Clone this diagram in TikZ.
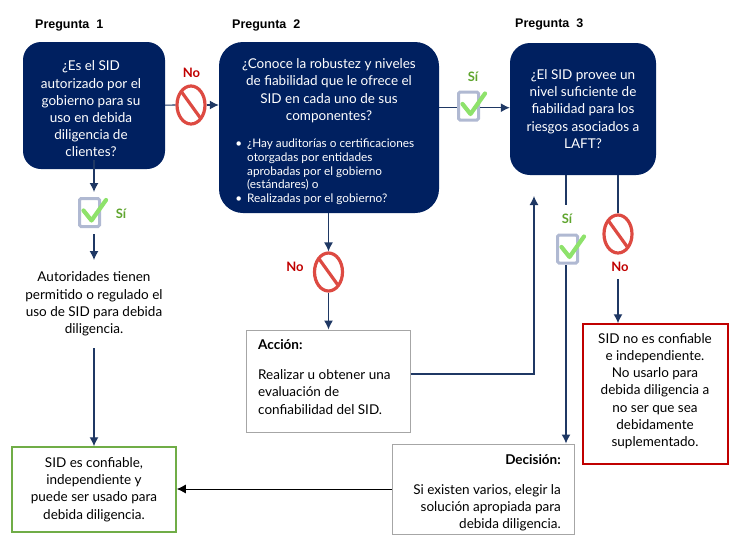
\documentclass[tikz,border=0pt]{standalone}
\usepackage{fontspec}
\setmainfont{Lato}
\newfontfamily\headfont{Liberation Sans}
\usetikzlibrary{arrows.meta}
\usetikzlibrary{shapes.geometric}
\definecolor{NavyClr}{HTML}{002060}
\definecolor{LineClr}{HTML}{1F3864}
\definecolor{BanClr}{HTML}{DD4A42}
\definecolor{NoClr}{HTML}{C00000}
\definecolor{SiClr}{HTML}{5FA52E}
\definecolor{TickClr}{HTML}{8EE26B}
\definecolor{CheckClr}{HTML}{B0B9D2}
\definecolor{OkBoxClr}{HTML}{70AD47}
\definecolor{RedBoxClr}{HTML}{C00000}
\definecolor{GreyBoxClr}{HTML}{A6A6A6}
\tikzset{
  question/.style={draw=none,fill=NavyClr,text=white,rounded corners=#1,align=center,font=\fontsize{13.5}{17.2}\selectfont,inner sep=0pt},
  question/.default=20pt,
  heading/.style={font=\headfont\bfseries\fontsize{12.5}{15}\selectfont,inner sep=0pt},
  plain/.style={align=center,font=\fontsize{13.5}{17.2}\selectfont,inner sep=0pt},
  result/.style={draw=#1,line width=1pt,fill=white,align=center,font=\fontsize{13.5}{17.2}\selectfont,inner sep=0pt},
  banicon/.style={ellipse,draw=BanClr,line width=3.2pt,fill=white,minimum width=28pt,minimum height=38pt,inner sep=0pt},
  checkicon/.style={draw=CheckClr,line width=3pt,rounded corners=1.5pt,fill=white,minimum width=20pt,minimum height=28pt,inner sep=0pt},
  yes/.style={text=SiClr,font=\bfseries\fontsize{13}{15}\selectfont,inner sep=0pt},
  no/.style={text=NoClr,font=\bfseries\fontsize{13}{15}\selectfont,inner sep=0pt},
  flow/.style={LineClr,line width=1.2pt,-{Latex[length=9pt,width=9pt]}},
  flowline/.style={LineClr,line width=1.2pt},
  slash/.pic={\draw[BanClr,line width=3.2pt] (-9,-12.5) -- (9,12.5);},
  tick/.pic={\draw[TickClr,line width=4.2pt,line cap=round,line join=round] (-6,-2) -- (2,8) -- (16.5,-12.5);}
}
\begin{document}
\begin{tikzpicture}[x=1pt,y=-1pt]
\useasboundingbox (0,0) rectangle (740,547);

% headings
\node[heading,anchor=west] (headOne) at (35,26) {Pregunta\ \ 1};
\node[heading,anchor=west] (headTwo) at (232,25) {Pregunta\ \ 2};
\node[heading,anchor=west] (headThree) at (515,24) {Pregunta\ \ 3};

% question boxes
\node[question=18pt,minimum width=142pt,minimum height=127pt] (boxOne) at (94,105.5) {};
\node[plain,text=white] (textOne) at (91,109) {¿Es el SID\\autorizado por el\\gobierno para su\\uso en debida\\diligencia de\\clientes?};
\node[question=24pt,minimum width=220pt,minimum height=171pt] (boxTwo) at (329,127.5) {};
\node[plain,text=white,anchor=north] (textTwo) at (329,58.5) {¿Conoce la robustez y niveles\\de fiabilidad que le ofrece el\\SID en cada uno de sus\\componentes?};
\node[plain,text=white,anchor=north west,align=left,font=\fontsize{11.8}{13.7}\selectfont] (listTwo) at (247,139) {\llap{\textbullet\hspace{5pt}}¿Hay auditorías o certificaciones\\otorgadas por entidades\\aprobadas por el gobierno\\(estándares) o\\\llap{\textbullet\hspace{5pt}}Realizadas por el gobierno?};
\node[question=20pt,minimum width=146pt,minimum height=132pt] (boxThree) at (583,109) {¿El SID provee un\\nivel suficiente de\\fiabilidad para los\\riesgos asociados a\\LAFT?};

% icons
\node[banicon] (banOne) at (191,105) {};
\node[banicon] (banTwo) at (328.5,272) {};
\node[banicon] (banThree) at (618,234) {};
\node[checkicon] (chkOne) at (89.5,212.5) {};
\node[checkicon] (chkTwo) at (468.5,106) {};
\node[checkicon] (chkThree) at (567.5,249) {};

% answers
\node[no] (noOne) at (191.5,73) {No};
\node[no] (noTwo) at (295,267) {No};
\node[no] (noThree) at (620,267) {No};
\node[yes] (siOne) at (121,214) {Sí};
\node[yes] (siTwo) at (473,77) {Sí};
\node[yes] (siThree) at (567,219) {Sí};

% texts and outcomes
\node[plain] (permit) at (94,304) {Autoridades tienen\\permitido o regulado el\\uso de SID para debida\\diligencia.};
\node[result=OkBoxClr,line width=1.5pt,minimum width=164pt,minimum height=85pt] (okBox) at (94,489.5) {SID es confiable,\\independiente y\\puede ser usado para\\debida diligencia.};
\node[result=RedBoxClr,line width=1.5pt,minimum width=145pt,minimum height=140pt] (redBox) at (655.5,394) {};
\node[plain] (redText) at (655,391) {SID no es confiable\\e independiente.\\No usarlo para\\debida diligencia a\\no ser que sea\\debidamente\\suplementado.};
\node[result=GreyBoxClr,minimum width=164pt,minimum height=102pt] (actBox) at (328,381) {};
\node[plain,anchor=west,align=left] (actText) at (258,377) {\textbf{Acción:}\\[12.5pt]Realizar u obtener una\\evaluación de\\confiabilidad del SID.};
\node[result=GreyBoxClr,minimum width=182pt,minimum height=90pt] (decBox) at (483,489) {};
\node[plain,anchor=east,align=right] (decText) at (561,493) {\textbf{Decisión:}\\[12.5pt]Si existen varios, elegir la\\solución apropiada para\\debida diligencia.};

% junction points
\coordinate (endOne) at (94,192);
\coordinate (startOne) at (94,234);
\coordinate (endPermit) at (94,260);
\coordinate (startPermit) at (94,348);
\coordinate (levelTwo) at (0,107.7);
\coordinate (upTop) at (534,196);
\coordinate (siTop) at (566,205);
\coordinate (siStart) at (566,265);
\coordinate (noTop) at (618,212);
\coordinate (noStart) at (618,279);

% connectors
\draw[flowline] (boxOne) -- (banOne);
\draw[flow] (banOne) -- (boxTwo.west |- banOne);
\draw[flowline] (boxTwo.east |- levelTwo) -- (chkTwo.west |- levelTwo);
\draw[flow] (chkTwo.east |- levelTwo) -- (boxThree.west |- levelTwo);
\draw[flow] (boxOne.south |- 0,160) -- (endOne);
\draw[flow] (startOne) -- (endPermit);
\draw[flow] (startPermit) -- (okBox.north);
\draw[flow] (boxTwo.south -| banTwo) -- (banTwo);
\draw[flow] (banTwo) -- (banTwo |- actBox.north);
\draw[flow] (actBox.east |- 0,374) -| (upTop);
\draw[flowline] (boxThree.south -| siTop) -- (siTop);
\draw[flow] (siStart) -- (siStart |- decBox.north);
\draw[flowline] (boxThree.south -| banThree) -- (banThree);
\draw[flow] (noStart) -- (noStart |- redBox.north);
\draw[black,line width=1pt,-{Latex[length=9pt,width=9pt]}] (decBox.west) -- (okBox.east |- decBox.west);

% slashes and ticks on top
\foreach \ban in {banOne,banTwo,banThree}
  \pic at (\ban) {slash};
\foreach \chk in {chkOne,chkTwo,chkThree}
  \pic at (\chk) {tick};

\end{tikzpicture}
\end{document}
